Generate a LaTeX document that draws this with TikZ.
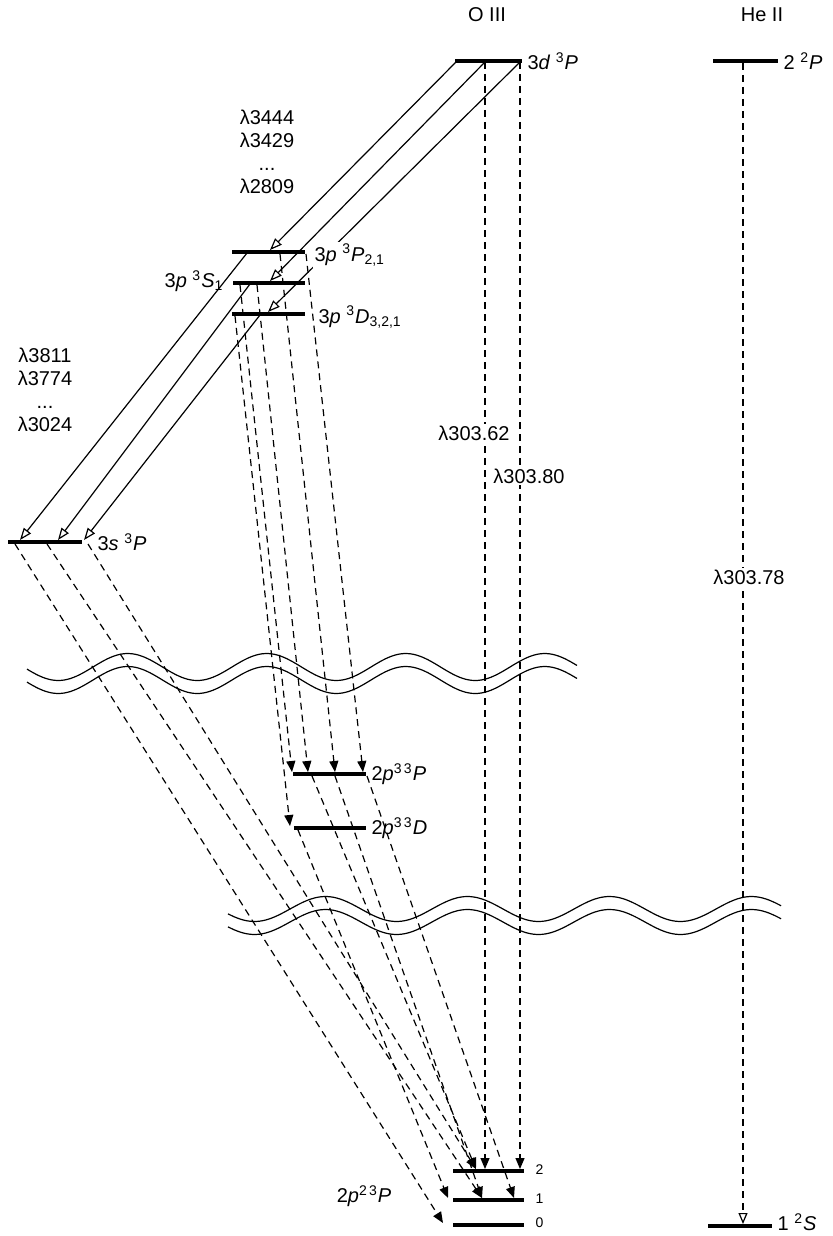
\documentclass[tikz,border=0pt]{standalone}
\usepackage{fontspec}
\setmainfont{Liberation Sans}
\usetikzlibrary{arrows.meta}

\begin{document}
\begin{tikzpicture}[x=0.5pt, y=-0.5pt, line width=0.6pt,
    font=\fontsize{10}{11.5}\selectfont,
    lvl/.style={line width=1.9pt},
    rad/.style={-{Triangle[open, length=6pt, width=4.5pt]}},
    casc/.style={dash pattern=on 3.5pt off 2.5pt, -{Triangle[length=5.5pt, width=4.5pt]}},
    lab/.style={anchor=west, inner sep=1pt},
    wl/.style={fill=white, inner sep=1pt}]
  \useasboundingbox (0,0) rectangle (833,1236);

  % ion headings
  \node (oiii) at (487,15) {O III};
  \node (heii) at (762,15) {He II};

  % O III levels
  \draw[lvl] (455,61) -- (522,61);
  \draw[lvl] (232,252) -- (305,252);
  \draw[lvl] (233,283) -- (305,283);
  \draw[lvl] (232,314) -- (305,314);
  \draw[lvl] (8,542) -- (82,542);
  \draw[lvl] (293,774) -- (366,774);
  \draw[lvl] (294,828) -- (366,828);
  \foreach \y in {1171,1200,1225} \draw[lvl] (453,\y) -- (524,\y);
  % He II levels
  \draw[lvl] (713,61) -- (778,61);
  \draw[lvl] (708,1226) -- (772,1226);

  % where the transitions meet the levels
  \coordinate (d1) at (457,61);  \coordinate (d2) at (485,62);  \coordinate (d3) at (520,62);
  \coordinate (pP) at (270,250); \coordinate (pS) at (270,281); \coordinate (pD) at (268,312);
  \coordinate (pP1) at (247,253); \coordinate (pS1) at (250,284); \coordinate (pD1) at (260,315);
  \coordinate (pP2) at (280,254); \coordinate (pP3) at (306,254);
  \coordinate (pS2) at (240,285); \coordinate (pS3) at (257,285); \coordinate (pD2) at (235,316);
  \coordinate (s1) at (20,540);  \coordinate (s2) at (58,540);  \coordinate (s3) at (84,540);
  \coordinate (s4) at (15,544);  \coordinate (s5) at (47,544);  \coordinate (s6) at (88,544);
  \coordinate (qP1) at (292,772); \coordinate (qP2) at (308,772);
  \coordinate (qP3) at (335,772); \coordinate (qP4) at (363,772); \coordinate (qD1) at (290,826);
  \coordinate (qP5) at (312,776); \coordinate (qP6) at (335,776);
  \coordinate (qP7) at (367,776); \coordinate (qD2) at (298,830);
  \coordinate (g2a) at (476,1169); \coordinate (g2b) at (485,1169); \coordinate (g2c) at (520,1169);
  \coordinate (g1a) at (448,1198); \coordinate (g1b) at (482,1198); \coordinate (g1c) at (514,1198);
  \coordinate (g0) at (443,1223);
  \coordinate (h2) at (743,63);  \coordinate (h1) at (743,1224);

  % 3d -> 3p and 3p -> 3s
  \foreach \a/\b in {d1/pP, d2/pS, d3/pD, pP1/s1, pS1/s2, pD1/s3}
    \draw[rad] (\a) -- (\b);

  % cascades
  \foreach \a/\b in {d2/g2b, d3/g2c, pP2/qP3, pP3/qP4, pS2/qP1, pS3/qP2, pD2/qD1,
      s4/g0, s5/g1b, s6/g2a, qD2/g1a, qP5/g2a, qP6/g1b, qP7/g1c}
    \draw[casc] (\a) -- (\b);
  \draw[casc, -{Triangle[open, length=5.5pt, width=4.5pt]}] (h2) -- (h1);

  % breaks in the energy scale
  \foreach \dy in {0,13}{
    \draw plot[domain=27:577, samples=90, smooth] (\x, {667+\dy-13.5*sin((\x-93)/139*360)});
    \draw plot[domain=228:781, samples=90, smooth] (\x, {909+\dy-12.5*sin((\x-290)/142*360)});
  }

  % level names
  \node[lab] (t3d) at (525,61) {3\textit{d} \textsuperscript{3}\textit{P}};
  \node[lab] (t2P) at (781,61) {2 \textsuperscript{2}\textit{P}};
  \node[lab, fill=white] (t3pP) at (312,255) {3\textit{p} \textsuperscript{3}\textit{P}\textsubscript{2,1}};
  \node[anchor=east, inner sep=1pt] (t3pS) at (226,281) {3\textit{p} \textsuperscript{3}\textit{S}\textsubscript{1}};
  \node[lab] (t3pD) at (316,317) {3\textit{p} \textsuperscript{3}\textit{D}\textsubscript{3,2,1}};
  \node[lab] (t3s) at (95,542) {3\textit{s} \textsuperscript{3}\textit{P}};
  \node[lab] (tqP) at (369,774) {2\textit{p}\textsuperscript{3\,3}\textit{P}};
  \node[lab] (tqD) at (369,828) {2\textit{p}\textsuperscript{3\,3}\textit{D}};
  \node (tg) at (364,1196) {2\textit{p}\textsuperscript{2\,3}\textit{P}};
  \foreach \j/\y in {2/1170, 1/1199, 0/1223}
    \node[lab, font=\fontsize{7}{8}\selectfont] (tj\j) at (533,\y) {\j};
  \node[lab] (t1S) at (775,1222) {1 \textsuperscript{2}\textit{S}};

  % wavelengths
  \node[align=center] (w3p) at (267,152) {λ3444\\λ3429\\...\\λ2809};
  \node[align=center] (w3s) at (45,390) {λ3811\\λ3774\\...\\λ3024};
  \node[wl] (w62) at (474,433) {λ303.62};
  \node[wl] (w80) at (529,476) {λ303.80};
  \node[wl] (w78) at (749,577) {λ303.78};
\end{tikzpicture}
\end{document}
